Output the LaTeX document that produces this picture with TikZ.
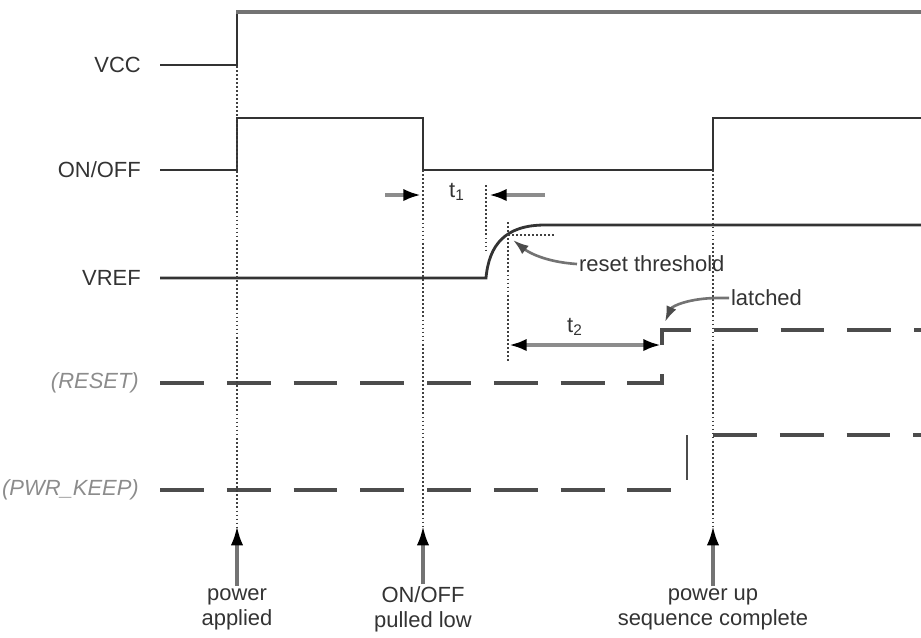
\documentclass[tikz,border=0pt]{standalone}
\usepackage{fontspec}
\setmainfont{Liberation Sans}
\usetikzlibrary{arrows.meta}

\begin{document}
\begin{tikzpicture}[x=0.02cm,y=-0.02cm,
  sig/.style={line width=1.6pt,color=black!80},
  sigdash/.style={line width=1.8pt,color=black!70,dash pattern=on 25pt off 13pt},
  evline/.style={line width=1.1pt,color=black!75,dash pattern=on 1pt off 1.3pt},
  lbl/.style={anchor=east,font=\fontsize{12.5}{14.2}\selectfont,text=black!80},
  oplbl/.style={lbl,text=black!45,font=\fontsize{12.5}{14.2}\selectfont\itshape},
  txt/.style={font=\fontsize{12.5}{14.2}\selectfont,text=black!80,inner sep=1pt},
  tarrow/.style={line width=2pt,color=black!45,-{Latex[length=10pt,width=7pt,black]}},
  callout/.style={line width=1.5pt,color=black!55,-{Latex[length=9pt,width=6pt,black!70]}},
  evarrow/.style={line width=1.8pt,color=black!55,-{Latex[length=11pt,width=7pt,black]}},
  evtxt/.style={txt,align=center}]
\useasboundingbox (0,0) rectangle (921,637);

% signal names
\node[lbl] (vcc) at (147,65) {VCC};
\node[lbl] (onoff) at (147,170) {ON/OFF};
\node[lbl] (vref) at (147,278) {VREF};
\node[oplbl] (rst) at (145,383) {(RESET)};
\node[oplbl] (pwk) at (145,490) {(PWR\_KEEP)};

% waveforms
\draw[sig] (160,65) -- (237,65) -- (237,12);
\draw[line width=2.4pt,color=black!55] (236,12) -- (921,12);
\draw[sig] (160,170) -- (237,170) -- (237,118) -- (423,118) -- (423,170) -- (713,170) -- (713,118) -- (921,118);
\draw[sig] (160,278) -- (486,278) .. controls (489,245) and (505,225) .. (545,225) -- (921,225);
\draw[sigdash] (160,383) -- (662,383) -- (662,370);
\draw[sigdash] (662,345) -- (662,330) -- (921,330);
\draw[sigdash] (160,490) -- (673,490);
\draw[sig,color=black!70] (687,435) -- (687,480);
\draw[sigdash] (713,435) -- (921,435);

% event markers
\draw[evline] (237,66) -- (237,528);
\draw[evline] (423,170) -- (423,528);
\draw[evline] (713,170) -- (713,528);
\draw[evline] (486,185) -- (486,252);
\draw[evline] (508,222) -- (508,362);
\draw[evline] (508,235) -- (555,235);

% t1
\draw[tarrow] (385,195) -- (421,195);
\draw[tarrow] (545,195) -- (489,195);
\node[txt] (t1) at (457,192) {t\textsubscript{1}};

% t2
\draw[tarrow,{Latex[length=10pt,width=7pt,black]}-{Latex[length=10pt,width=7pt,black]}] (509,345) -- (661,345);
\node[txt] (t2) at (575,327) {t\textsubscript{2}};

% callouts
\node[txt,anchor=west] (rth) at (577,264) {reset threshold};
\draw[callout] (rth.west) .. controls (545,262) and (528,252) .. (513,240);
\node[txt,anchor=west] (lat) at (729,298) {latched};
\draw[callout] (lat.west) -- (718,298) .. controls (690,298) and (672,306) .. (665,322);

% events
\node[evtxt] (pwr) at (237,609) {power\\applied};
\node[evtxt] (low) at (423,609) {ON/OFF\\pulled low};
\node[evtxt] (seq) at (713,609) {power up\\sequence complete};
\coordinate (pwrtop) at (237,526);
\coordinate (lowtop) at (423,526);
\coordinate (seqtop) at (713,526);
\draw[evarrow] (pwr.north) -- (pwrtop);
\draw[evarrow] (low.north) -- (lowtop);
\draw[evarrow] (seq.north) -- (seqtop);
\end{tikzpicture}
\end{document}
